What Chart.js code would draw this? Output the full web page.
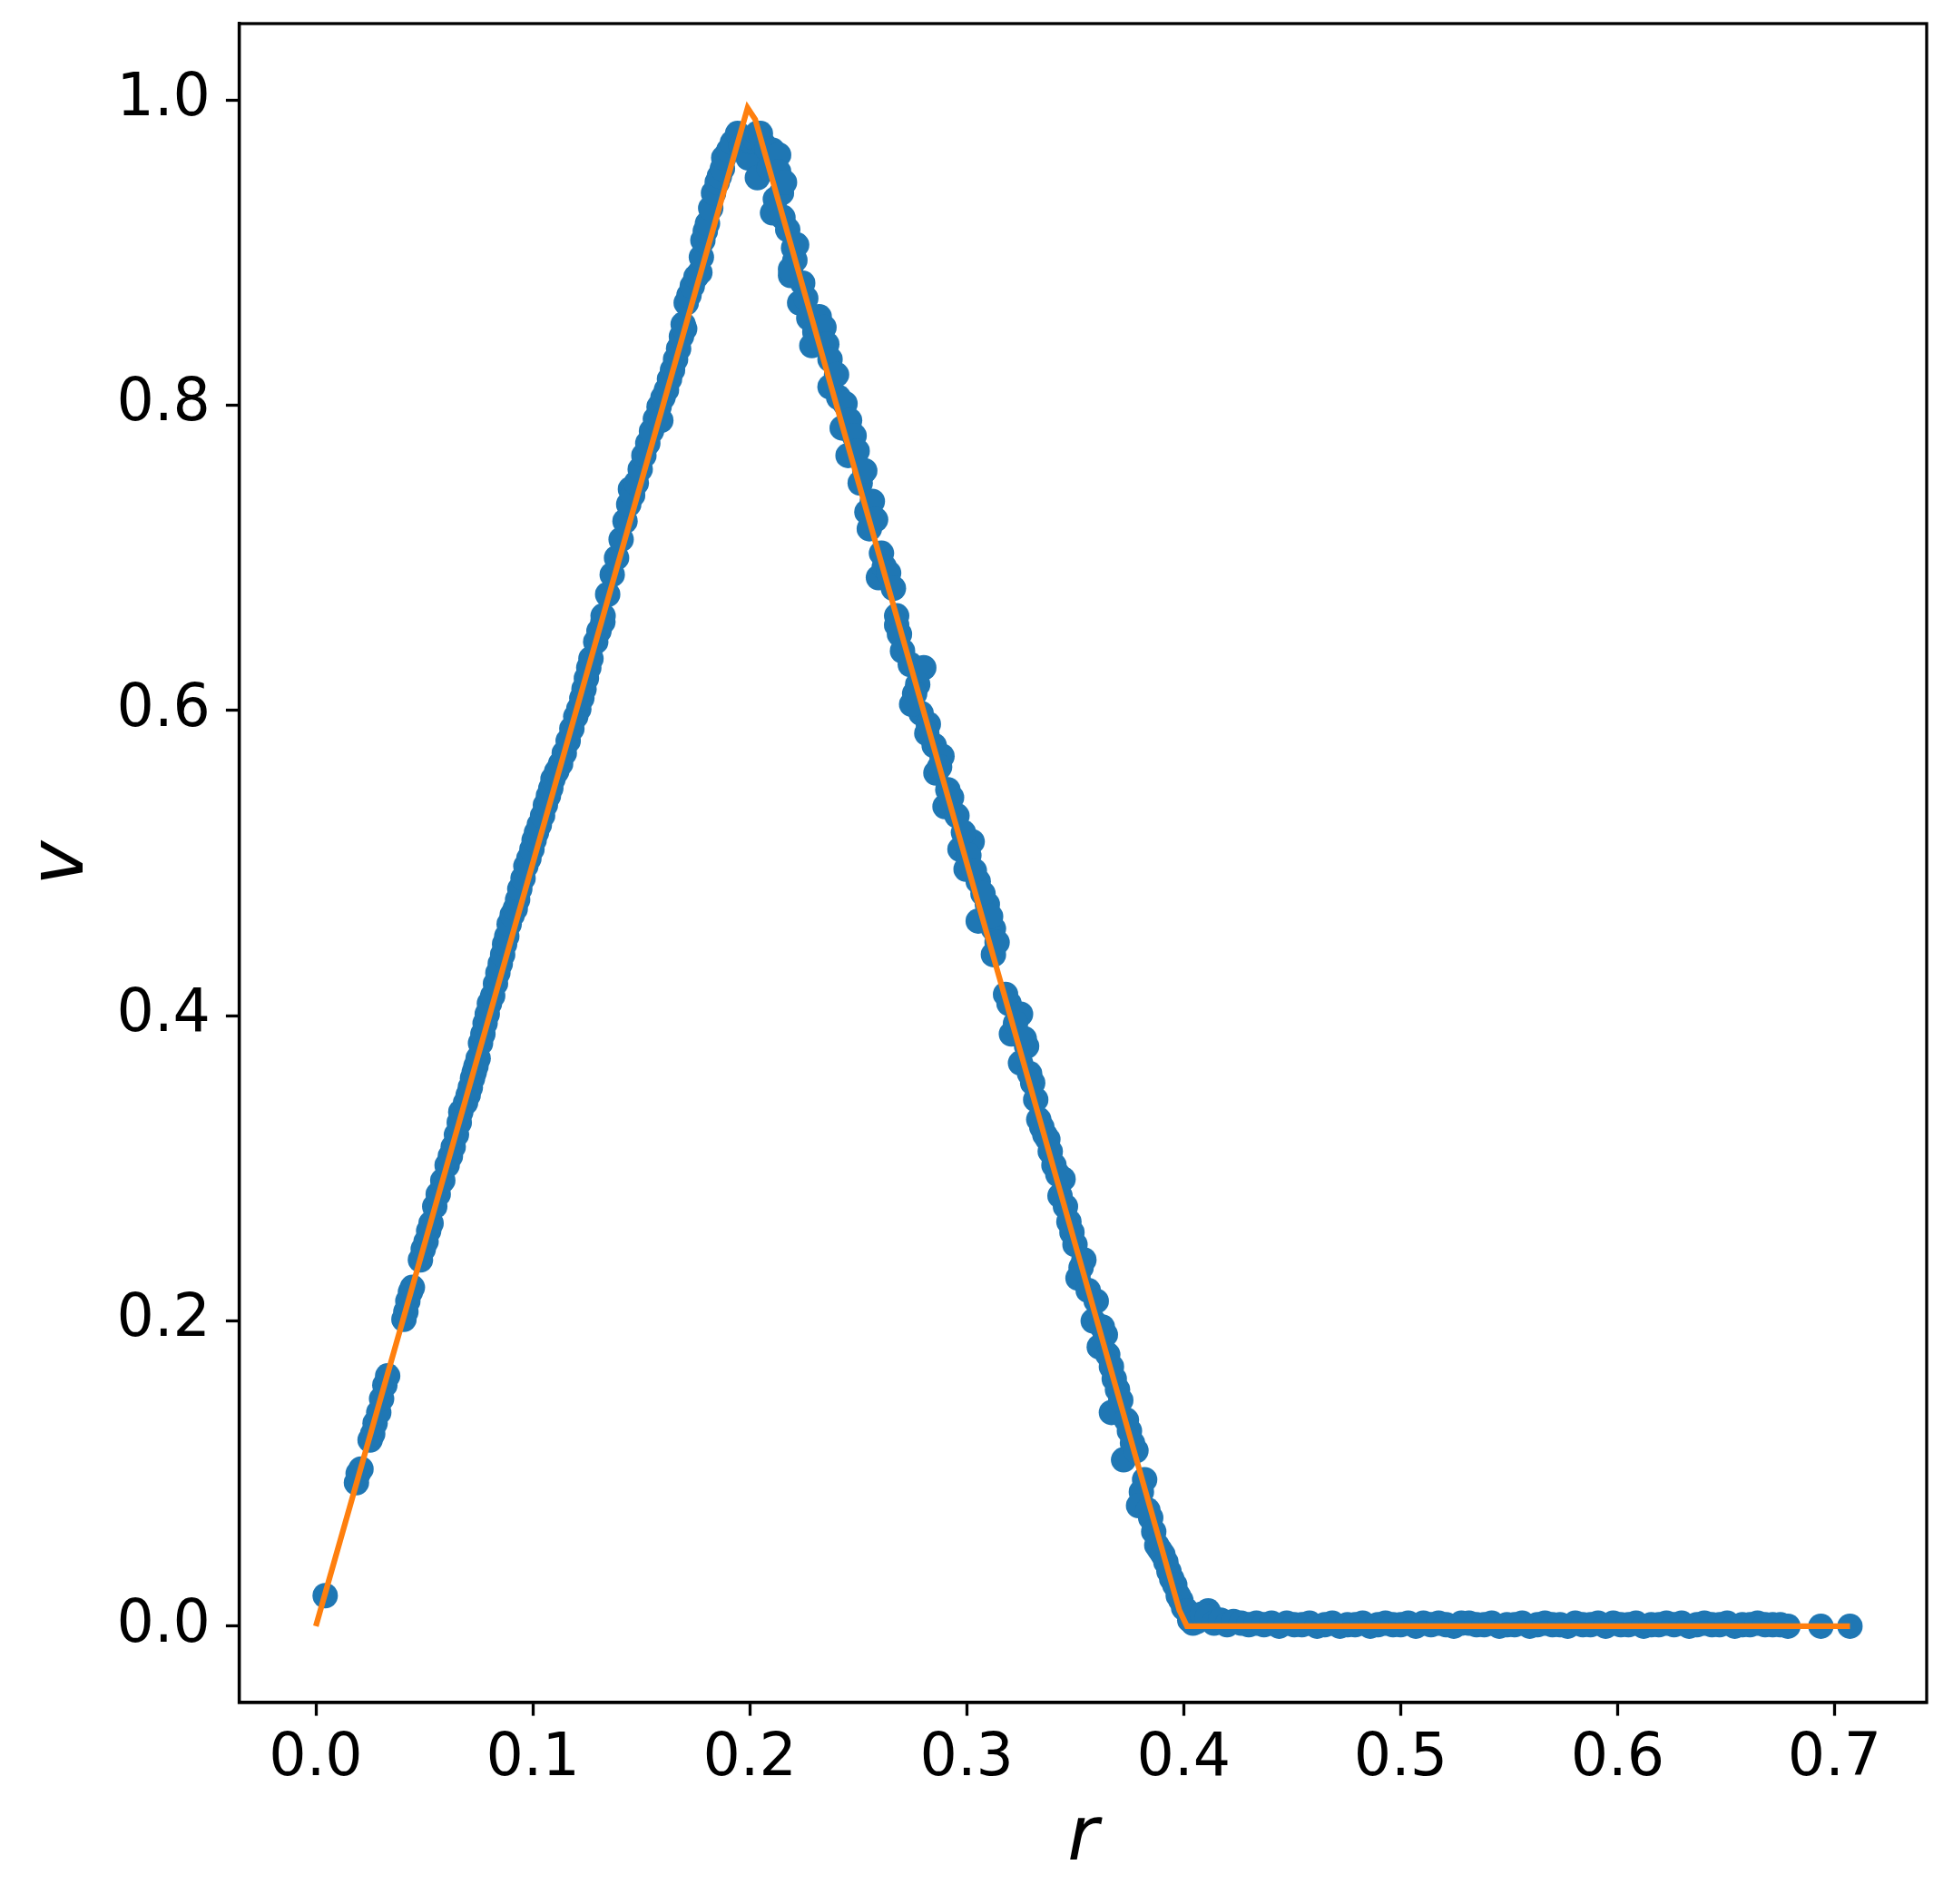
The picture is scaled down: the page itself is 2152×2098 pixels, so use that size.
<!DOCTYPE html>
<html>
<head>
<meta charset="utf-8">
<script src="https://cdn.jsdelivr.net/npm/chart.js@4"></script>
<style>
  body { margin: 0; background: #fff; }
  canvas { display: block; }
</style>
</head>
<body>
<canvas id="chart" width="2152" height="2098"></canvas>
<script>
// scatter samples (r, v)
const scatterR = [
  // rising side
  0.0043, 0.0187, 0.0195, 0.0208, 0.0250, 0.0262, 0.0273, 0.0290, 0.0303, 0.0318,
  0.0331, 0.0406, 0.0415, 0.0424, 0.0436, 0.0445, 0.0482, 0.0495, 0.0508, 0.0520,
  0.0531, 0.0548, 0.0564, 0.0585, 0.0605, 0.0620, 0.0633, 0.0648, 0.0661, 0.0668,
  0.0690, 0.0702, 0.0712, 0.0722, 0.0730, 0.0738, 0.0748, 0.0759, 0.0770, 0.0780,
  0.0790, 0.0800, 0.0815, 0.0828, 0.0839, 0.0850, 0.0861, 0.0870, 0.0880, 0.0891,
  0.0905, 0.0919, 0.0930, 0.0940, 0.0955, 0.0968, 0.0982, 0.0996, 0.1006, 0.1017,
  0.1030, 0.1045, 0.1058, 0.1072, 0.1083, 0.1093, 0.1110, 0.1128, 0.1145, 0.1163,
  0.1180, 0.1198, 0.1212, 0.1226, 0.1236, 0.1247, 0.1258, 0.1268, 0.1290, 0.1305,
  0.1323, 0.1324, 0.1345, 0.1366, 0.1386, 0.1407, 0.1425, 0.1442, 0.1450, 0.1460,
  0.1477, 0.1495, 0.1512, 0.1530, 0.1547, 0.1565, 0.1582, 0.1590, 0.1600, 0.1616,
  0.1630, 0.1644, 0.1658, 0.1672, 0.1685, 0.1693, 0.1700, 0.1707, 0.1720, 0.1735,
  0.1752, 0.1770, 0.1777, 0.1784, 0.1795, 0.1805, 0.1820, 0.1833, 0.1850, 0.1860,
  0.1874, 0.1880, 0.1903, 0.1920, 0.1944, 0.1960, 0.1975,
  // peak and falling side
  0.1993, 0.1993, 0.2007, 0.2020, 0.2035, 0.2049, 0.2063, 0.2035, 0.2080, 0.2090,
  0.2105, 0.2133, 0.2133, 0.2118, 0.2146, 0.2160, 0.2105, 0.2153, 0.2175, 0.2202,
  0.2208, 0.2216, 0.2188, 0.2188, 0.2244, 0.2230, 0.2258, 0.2272, 0.2300, 0.2320,
  0.2342, 0.2286, 0.2355, 0.2370, 0.2370, 0.2400, 0.2410, 0.2439, 0.2426, 0.2460,
  0.2481, 0.2453, 0.2495, 0.2509, 0.2530, 0.2540, 0.2565, 0.2551, 0.2580, 0.2607,
  0.2593, 0.2620, 0.2640, 0.2662, 0.2677, 0.2677, 0.2690, 0.2704, 0.2740, 0.2802,
  0.2774, 0.2760, 0.2790, 0.2746, 0.2823, 0.2816, 0.2850, 0.2886, 0.2858, 0.2875,
  0.2913, 0.2900, 0.2930, 0.2955, 0.3025, 0.2969, 0.2985, 0.2997, 0.3010, 0.3053,
  0.3035, 0.3095, 0.3053, 0.3075, 0.3123, 0.3110, 0.3123, 0.3140, 0.3179, 0.3195,
  0.3248, 0.3206, 0.3225, 0.3276, 0.3265, 0.3248, 0.3304, 0.3290, 0.3318, 0.3332,
  0.3346, 0.3360, 0.3374, 0.3385, 0.3402, 0.3420, 0.3444, 0.3430, 0.3455, 0.3471,
  0.3485, 0.3499, 0.3527, 0.3540, 0.3513, 0.3560, 0.3597, 0.3583, 0.3625, 0.3639,
  0.3611, 0.3650, 0.3667, 0.3680, 0.3695, 0.3667, 0.3710, 0.3736, 0.3750, 0.3764,
  0.3723, 0.3780, 0.3820, 0.3805, 0.3792, 0.3835, 0.3848, 0.3862, 0.3876, 0.3890,
  0.3904, 0.3918, 0.3932, 0.3945, 0.3959, 0.3975, 0.3987, 0.4000, 0.4015, 0.4028,
  0.4043, 0.4113, 0.4043,
  // flat tail
  0.4060, 0.4085, 0.4110, 0.4140, 0.4170, 0.4200, 0.4230, 0.4265, 0.4300, 0.4335,
  0.4370, 0.4405, 0.4440, 0.4475, 0.4510, 0.4545, 0.4580, 0.4615, 0.4650, 0.4685,
  0.4720, 0.4755, 0.4790, 0.4825, 0.4860, 0.4895, 0.4930, 0.4965, 0.5000, 0.5035,
  0.5070, 0.5105, 0.5140, 0.5175, 0.5210, 0.5245, 0.5280, 0.5315, 0.5350, 0.5385,
  0.5420, 0.5455, 0.5490, 0.5525, 0.5560, 0.5595, 0.5630, 0.5665, 0.5700, 0.5735,
  0.5770, 0.5805, 0.5840, 0.5875, 0.5910, 0.5945, 0.5980, 0.6015, 0.6050, 0.6085,
  0.6120, 0.6155, 0.6190, 0.6225, 0.6260, 0.6295, 0.6330, 0.6365, 0.6400, 0.6435,
  0.6470, 0.6505, 0.6540, 0.6575, 0.6610, 0.6645, 0.6680, 0.6715, 0.6750, 0.6785,
  0.6937, 0.7071
];
const scatterV = [
  // rising side
  0.020, 0.094, 0.100, 0.103, 0.122, 0.126, 0.133, 0.140, 0.149, 0.158,
  0.164, 0.201, 0.206, 0.213, 0.219, 0.222, 0.240, 0.247, 0.252, 0.259,
  0.264, 0.275, 0.283, 0.292, 0.302, 0.308, 0.314, 0.322, 0.330, 0.337,
  0.343, 0.348, 0.353, 0.359, 0.363, 0.367, 0.372, 0.382, 0.388, 0.395,
  0.401, 0.408, 0.413, 0.421, 0.428, 0.434, 0.440, 0.447, 0.452, 0.460,
  0.466, 0.470, 0.476, 0.483, 0.490, 0.498, 0.503, 0.509, 0.515, 0.520,
  0.525, 0.531, 0.538, 0.544, 0.549, 0.555, 0.560, 0.565, 0.572, 0.580,
  0.588, 0.596, 0.601, 0.608, 0.614, 0.621, 0.628, 0.634, 0.645, 0.652,
  0.658, 0.662, 0.676, 0.689, 0.700, 0.712, 0.724, 0.735, 0.745, 0.741,
  0.749, 0.758, 0.767, 0.775, 0.783, 0.791, 0.799, 0.790, 0.805, 0.810,
  0.817, 0.823, 0.830, 0.837, 0.845, 0.853, 0.850, 0.867, 0.872, 0.878,
  0.884, 0.887, 0.897, 0.908, 0.914, 0.919, 0.929, 0.939, 0.946, 0.950,
  0.955, 0.962, 0.967, 0.972, 0.978, 0.970, 0.968,
  // peak and falling side
  0.962, 0.973, 0.973, 0.975, 0.978, 0.978, 0.971, 0.949, 0.968, 0.955,
  0.967, 0.964, 0.953, 0.935, 0.939, 0.946, 0.926, 0.923, 0.915, 0.903,
  0.895, 0.905, 0.885, 0.889, 0.880, 0.867, 0.870, 0.857, 0.848, 0.858,
  0.851, 0.839, 0.840, 0.830, 0.812, 0.820, 0.805, 0.801, 0.785, 0.790,
  0.780, 0.767, 0.770, 0.749, 0.757, 0.730, 0.737, 0.719, 0.725, 0.703,
  0.687, 0.694, 0.690, 0.680, 0.662, 0.656, 0.650, 0.639, 0.630, 0.628,
  0.617, 0.611, 0.598, 0.604, 0.591, 0.585, 0.577, 0.570, 0.559, 0.563,
  0.548, 0.537, 0.543, 0.531, 0.514, 0.509, 0.520, 0.496, 0.505, 0.488,
  0.495, 0.473, 0.462, 0.480, 0.457, 0.465, 0.440, 0.448, 0.414, 0.408,
  0.401, 0.388, 0.395, 0.380, 0.385, 0.369, 0.356, 0.362, 0.345, 0.332,
  0.327, 0.322, 0.319, 0.311, 0.302, 0.296, 0.293, 0.282, 0.275, 0.265,
  0.258, 0.250, 0.235, 0.240, 0.228, 0.220, 0.213, 0.200, 0.196, 0.191,
  0.183, 0.178, 0.170, 0.162, 0.155, 0.140, 0.148, 0.135, 0.128, 0.120,
  0.109, 0.115, 0.096, 0.088, 0.079, 0.076, 0.071, 0.062, 0.053, 0.050,
  0.047, 0.042, 0.036, 0.031, 0.027, 0.020, 0.017, 0.012, 0.010, 0.004,
  0.006, 0.010, 0.002,
  // flat tail
  0.003, 0.008, 0.006, 0.002, 0.004, 0.001, 0.003, 0.002, 0.001, 0.002,
  0.001, 0.002, 0.000, 0.002, 0.001, 0.001, 0.002, 0.000, 0.001, 0.002,
  0.000, 0.001, 0.001, 0.002, 0.000, 0.001, 0.002, 0.001, 0.001, 0.002,
  0.000, 0.002, 0.001, 0.002, 0.001, 0.000, 0.002, 0.002, 0.001, 0.001,
  0.002, 0.000, 0.001, 0.001, 0.002, 0.000, 0.001, 0.002, 0.001, 0.001,
  0.000, 0.002, 0.001, 0.001, 0.002, 0.000, 0.002, 0.001, 0.001, 0.002,
  0.000, 0.001, 0.001, 0.002, 0.001, 0.002, 0.000, 0.001, 0.002, 0.001,
  0.001, 0.002, 0.000, 0.001, 0.001, 0.002, 0.001, 0.001, 0.001, 0.000,
  0.000, 0.000
];

// reference curve vertices
const lineR = [0, 0.1990, 0.2025, 0.3980, 0.4015, 0.7071];
const lineV = [0, 0.9948, 0.9873, 0.0105, 0, 0];

const xTicks = [0, 0.1, 0.2, 0.3, 0.4, 0.5, 0.6, 0.7];
const yTicks = [0, 0.2, 0.4, 0.6, 0.8, 1.0];

const tickFont = { family: 'DejaVu Sans', size: 65 };
const labelFont = { family: 'DejaVu Sans', size: 83, style: 'italic' };

// top and right spines
const frame = {
    id: 'frame',
    afterDatasetsDraw(chart) {
        const a = chart.chartArea, ctx = chart.ctx;
        ctx.save();
        ctx.strokeStyle = '#000';
        ctx.lineWidth = 3.3;
        ctx.strokeRect(a.left, a.top, a.right - a.left, a.bottom - a.top);
        ctx.restore();
    }
};

const axisGrid = {
    display: true,
    drawOnChartArea: false,
    drawTicks: true,
    tickLength: 14.6,
    tickWidth: 3.3,
    tickColor: '#000',
    color: '#000'
};

// fixed axis sizes, no extra label padding
function fixSize(s, w, h) {
    if (w !== null) s.width = w;
    if (h !== null) s.height = h;
    s.paddingTop = 0;
    s.paddingBottom = 0;
    s.paddingLeft = 0;
    s.paddingRight = 0;
}

new Chart(document.getElementById('chart'), {
    type: 'scatter',
    data: {
        datasets: [{
            type: 'line',
            data: lineR.map((r, i) => ({ x: r, y: lineV[i] })),
            borderColor: '#ff7f0e',
            borderWidth: 6.25,
            pointRadius: 0,
            tension: 0,
            fill: false,
            order: 0
        }, {
            data: scatterR.map((r, i) => ({ x: r, y: scatterV[i] })),
            backgroundColor: '#1f77b4',
            borderWidth: 0,
            pointRadius: 14,
            order: 1
        }]
    },
    options: {
        responsive: false,
        animation: false,
        devicePixelRatio: 1,
        layout: { padding: { left: 0, right: 29, top: 26, bottom: 0 } },
        plugins: { legend: { display: false }, tooltip: { enabled: false } },
        scales: {
            x: {
                type: 'linear',
                min: -0.03536,
                max: 0.74246,
                afterBuildTicks: s => { s.ticks = xTicks.map(v => ({ value: v })); },
                afterFit: s => fixSize(s, null, 222),
                ticks: {
                    font: tickFont, color: '#000', padding: 10,
                    maxRotation: 0, autoSkip: false,
                    callback: v => v.toFixed(1)
                },
                grid: axisGrid,
                border: { display: true, color: '#000', width: 3.3 },
                title: { display: true, text: 'r', color: '#000', font: labelFont, padding: { top: 0, bottom: 21 } }
            },
            y: {
                type: 'linear',
                min: -0.05,
                max: 1.05,
                afterBuildTicks: s => { s.ticks = yTicks.map(v => ({ value: v })); },
                afterFit: s => fixSize(s, 263.5, null),
                ticks: {
                    font: tickFont, color: '#000', padding: 17,
                    autoSkip: false,
                    callback: v => v.toFixed(1)
                },
                grid: axisGrid,
                border: { display: true, color: '#000', width: 3.3 },
                title: { display: true, text: 'v', color: '#000', font: labelFont, padding: { top: 20, bottom: 0 } }
            }
        }
    },
    plugins: [frame]
});
</script>
</body>
</html>
